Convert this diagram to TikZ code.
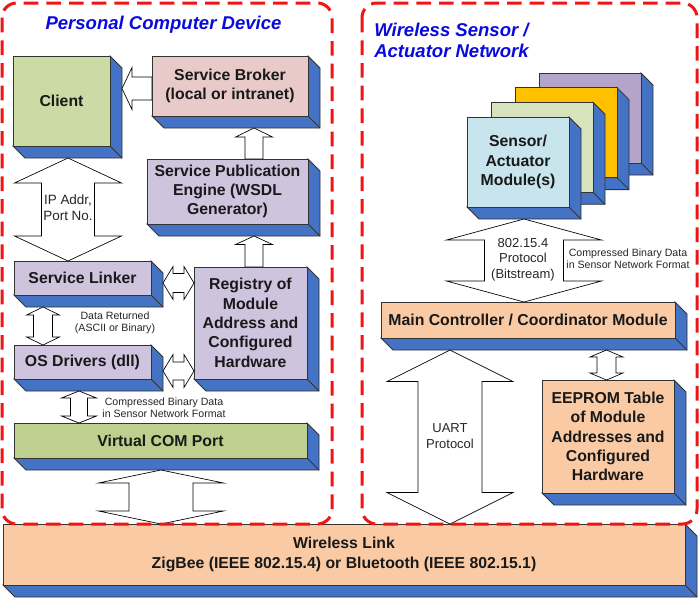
\documentclass[tikz,border=0pt]{standalone}
\usepackage{fontspec}
\setmainfont{Liberation Sans}
\usetikzlibrary{calc}

\definecolor{depthblue}{RGB}{68,114,196}
\definecolor{clientgreen}{RGB}{204,219,166}
\definecolor{vcpgreen}{RGB}{190,208,142}
\definecolor{brokerpink}{RGB}{232,202,200}
\definecolor{lavender}{RGB}{206,196,222}
\definecolor{peach}{RGB}{250,202,164}
\definecolor{sensorblue}{RGB}{200,228,236}
\definecolor{modgreen}{RGB}{214,227,188}
\definecolor{modorange}{RGB}{255,192,0}
\definecolor{modlav}{RGB}{180,164,202}
\definecolor{titleblue}{RGB}{10,10,220}
\definecolor{dashred}{RGB}{240,20,20}

\tikzset{
  box/.style={draw=black!80, line width=0.6pt, inner sep=0pt, outer sep=0pt,
    align=center, font=\bfseries\fontsize{11.85}{14.5}\selectfont, text=black!90},
  depthside/.style={draw=black!80, fill=depthblue, line width=0.6pt, line join=miter},
  blockarrow/.style={draw=black, fill=white, line width=0.5pt, line join=miter},
  smalllbl/.style={inner sep=0pt, align=center, font=\fontsize{7.95}{9}\selectfont, text=black!85},
  midlbl/.style={inner sep=0pt, align=center, font=\fontsize{10.1}{12}\selectfont, text=black!85},
  protlbl/.style={inner sep=0pt, align=center, font=\fontsize{9.75}{11.6}\selectfont, text=black!85},
  titlelbl/.style={inner sep=0pt, font=\bfseries\itshape\fontsize{13.9}{15.75}\selectfont, text=titleblue},
  dashbox/.style={draw=dashred, line width=2.25pt, dash pattern=on 11pt off 6pt, rounded corners=11pt},
}

% 3D box: name, x1, y1, x2, y2, fill, text
\newcommand\tdbox[7]{%
  \draw[depthside] (#4,#3) -- (#4+12,#3+12) -- (#4+12,#5+12) -- (#2+12,#5+12) -- (#2,#5) -- (#4,#5) -- cycle;
  \draw[depthside] (#4,#5) -- (#4+12,#5+12);
  \pgfmathsetmacro\bxw{(#4-#2)*0.75}%
  \pgfmathsetmacro\bxh{(#5-#3)*0.75}%
  \node[box, fill=#6, minimum width=\bxw pt, minimum height=\bxh pt] (#1) at ({(#2+#4)/2},{(#3+#5)/2}) {#7};
}

% vertical double block arrow: top, bottom, half shaft, half head, head length
\newcommand\vdarrow[5]{%
  \draw[blockarrow] (#1) -- ($(#1)+(#4,#5)$) -- ($(#1)+(#3,#5)$) -- ($(#2)+(#3,-#5)$)
    -- ($(#2)+(#4,-#5)$) -- (#2) -- ($(#2)+(-#4,-#5)$) -- ($(#2)+(-#3,-#5)$)
    -- ($(#1)+(-#3,#5)$) -- ($(#1)+(-#4,#5)$) -- cycle;}
% horizontal double block arrow: left, right, half shaft, half head, head length
\newcommand\hdarrow[5]{%
  \draw[blockarrow] (#1) -- ($(#1)+(#5,-#4)$) -- ($(#1)+(#5,-#3)$) -- ($(#2)+(-#5,-#3)$)
    -- ($(#2)+(-#5,-#4)$) -- (#2) -- ($(#2)+(-#5,#4)$) -- ($(#2)+(-#5,#3)$)
    -- ($(#1)+(#5,#3)$) -- ($(#1)+(#5,#4)$) -- cycle;}
% upward single block arrow: tip, tail
\newcommand\uparr[5]{%
  \draw[blockarrow] (#1) -- ($(#1)+(#4,#5)$) -- ($(#1)+(#3,#5)$) -- ($(#2)+(#3,0)$)
    -- ($(#2)+(-#3,0)$) -- ($(#1)+(-#3,#5)$) -- ($(#1)+(-#4,#5)$) -- cycle;}
% leftward single block arrow: tip, tail
\newcommand\leftarr[5]{%
  \draw[blockarrow] (#1) -- ($(#1)+(#5,-#4)$) -- ($(#1)+(#5,-#3)$) -- ($(#2)+(0,-#3)$)
    -- ($(#2)+(0,#3)$) -- ($(#1)+(#5,#3)$) -- ($(#1)+(#5,#4)$) -- cycle;}

\begin{document}
\begin{tikzpicture}[x=0.75pt,y=-0.75pt]
\fill[white] (0,0) rectangle (700,597);
\useasboundingbox (0,0) rectangle (700,597);

% ---------- left: PC device ----------
\tdbox{client}{13}{56}{110}{146}{clientgreen}{Client}
\tdbox{broker}{152}{56}{308}{116}{brokerpink}{Service Broker\\(local or intranet)}
\tdbox{spe}{147}{159}{308}{224}{lavender}{Service Publication\\Engine (WSDL\\Generator)}
\tdbox{linker}{14}{261}{151}{295}{lavender}{Service Linker}
\tdbox{registry}{194}{267}{307}{379}{lavender}{Registry of\\Module\\Address and\\Configured\\Hardware}
\tdbox{osdrv}{14}{345}{151}{379}{lavender}{OS Drivers (dll)}
\tdbox{vcp}{14}{423}{307}{458}{vcpgreen}{Virtual COM Port}

% ---------- right: sensor network ----------
\tdbox{mod3}{539}{73}{641}{163}{modlav}{}
\tdbox{mod2}{515}{87.6}{617}{177.6}{modorange}{}
\tdbox{mod1}{491}{102.3}{593}{192.3}{modgreen}{}
\tdbox{mod0}{467}{117}{569}{207}{sensorblue}{Sensor/\\Actuator\\Module(s)}
\tdbox{mainc}{381}{302}{675}{338}{peach}{Main Controller / Coordinator Module}
\tdbox{eeprom}{542}{380}{674}{493}{peach}{EEPROM Table\\of Module\\Addresses and\\Configured\\Hardware}

% ---------- bottom link ----------
\tdbox{wlink}{3}{524}{685}{585}{peach}{Wireless Link\\[1pt]ZigBee (IEEE 802.15.4) or Bluetooth (IEEE 802.15.1)}

% ---------- connectors ----------
\coordinate (bcT) at ($(client.north east)+(12,32.5)$);
\coordinate (bcE) at (bcT -| broker.west);
\leftarr{bcT}{bcE}{11.5}{21}{10}

\coordinate (sbT) at ($(broker.south)+(24,12)$);
\coordinate (sbE) at (sbT |- spe.north);
\uparr{sbT}{sbE}{9}{18.5}{9}

\coordinate (rsT) at ($(spe.south)+(26.5,12)$);
\coordinate (rsE) at (rsT |- registry.north);
\uparr{rsT}{rsE}{9}{18.5}{8.5}

\coordinate (ipT) at ($(client.south)+(6.5,12)$);
\coordinate (ipB) at (ipT |- linker.north);
\vdarrow{ipT}{ipB}{26.5}{53.5}{25}

\coordinate (lrL) at ($(linker.east)+(12,5)$);
\coordinate (lrR) at (lrL -| registry.west);
\hdarrow{lrL}{lrR}{9.5}{16.5}{10}

\coordinate (orL) at ($(osdrv.east)+(12,9)$);
\coordinate (orR) at (orL -| registry.west);
\hdarrow{orL}{orR}{9}{16.5}{10}

\coordinate (drT) at ($(linker.south west)+(29,12)$);
\coordinate (drB) at (drT |- osdrv.north);
\vdarrow{drT}{drB}{9.5}{16.5}{8}

\coordinate (cpT) at ($(osdrv.south west)+(65,12)$);
\coordinate (cpB) at (cpT |- vcp.north);
\vdarrow{cpT}{cpB}{8.5}{17.5}{7}

\coordinate (vwT) at ($(vcp.south west)+(147,12)$);
\coordinate (vwB) at (vwT |- wlink.north);
\vdarrow{vwT}{vwB}{32}{62.5}{13}

\coordinate (smT) at ($(mod0.south)+(6,12)$);
\coordinate (smB) at (smT |- mainc.north);
\vdarrow{smT}{smB}{39.5}{77.5}{21}

\coordinate (uaT) at ($(mainc.south west)+(69,12)$);
\coordinate (uaB) at (uaT |- wlink.north);
\vdarrow{uaT}{uaB}{32}{63}{31.5}

\coordinate (eeT) at ($(mainc.south)+(78.5,12)$);
\coordinate (eeB) at (eeT |- eeprom.north);
\vdarrow{eeT}{eeB}{9.5}{16.5}{7}

% ---------- labels ----------
\node[midlbl] (iplbl) at (68,208) {IP Addr,\\Port No.};
\node[smalllbl] (drlbl) at (115,323) {Data Returned\\(ASCII or Binary)};
\node[smalllbl] (cplbl) at (164,407.5) {Compressed Binary Data\\in Sensor Network Format};
\node[smalllbl] (cprlbl) at (628,259) {Compressed Binary Data\\in Sensor Network Format};
\node[protlbl] (prlbl) at (523,259.5) {802.15.4\\Protocol\\(Bitstream)};
\node[protlbl] (ualbl) at (450,436) {UART\\Protocol};

% ---------- titles ----------
\node[titlelbl] (pctitle) at (163.5,25) {Personal Computer Device};
\node[titlelbl, align=left, anchor=west] (wstitle) at (374,40.5) {Wireless Sensor /\\Actuator Network};

% ---------- dashed groups ----------
\draw[dashbox] (2,3) rectangle (332,524);
\draw[dashbox] (362,3) rectangle (697,524);
\end{tikzpicture}
\end{document}
